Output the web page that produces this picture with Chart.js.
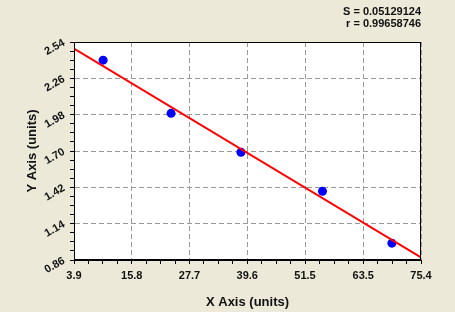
<!DOCTYPE html>
<html>
<head>
<meta charset="utf-8">
<script src="https://cdn.jsdelivr.net/npm/chart.js@4.4.1/dist/chart.umd.min.js"></script>
<style>
  html, body { margin: 0; padding: 0; background: #ECE9D8; }
  canvas { display: block; }
</style>
</head>
<body>
<canvas id="chart" width="455" height="312"></canvas>
<script>
// measured points
const xValues = [9.9, 23.9, 38.3, 55.1, 69.4];
const yValues = [2.40, 1.99, 1.69, 1.39, 0.99];
// ends of the fitted line
const fitX = [3.9, 75.4];
const fitY = [2.49, 0.88];
// axis tick labels
const xTickLabels = ['3.9', '15.8', '27.7', '39.6', '51.5', '63.5', '75.4'];
const yTickLabels = ['0.86', '1.14', '1.42', '1.70', '1.98', '2.26', '2.54'];
const statLines = ['S = 0.05129124', 'r = 0.99658746'];

// majors from the labels, 3 minor ticks between each pair
function withMinorTicks(labels) {
  const ticks = [];
  for (let i = 0; i < labels.length; i++) {
    const v = parseFloat(labels[i]);
    ticks.push({ value: v, text: labels[i] });
    if (i < labels.length - 1) {
      const next = parseFloat(labels[i + 1]);
      for (let k = 1; k < 4; k++) {
        ticks.push({ value: v + (next - v) * k / 4, minor: true });
      }
    }
  }
  return ticks;
}

const gridColor = c => (c.tick && c.tick.minor) ? 'rgba(0,0,0,0)' : '#9a9a9a';
const tickFont = { family: 'Arial, "Liberation Sans"', size: 11, weight: 'bold' };
const titleFont = { family: 'Arial, "Liberation Sans"', size: 13, weight: 'bold' };

// plot background + frame
const plotFrame = {
  id: 'plotFrame',
  beforeDraw(chart) {
    const { ctx, chartArea: a } = chart;
    ctx.save();
    ctx.fillStyle = '#ECE9D8';
    ctx.fillRect(0, 0, chart.width, chart.height);
    ctx.fillStyle = '#ffffff';
    ctx.fillRect(a.left, a.top, a.right - a.left, a.bottom - a.top);
    ctx.restore();
  },
  afterDraw(chart) {
    const { ctx, chartArea: a } = chart;
    ctx.save();
    ctx.strokeStyle = '#000';
    ctx.lineWidth = 1;
    ctx.setLineDash([]);
    ctx.strokeRect(a.left + 0.5, a.top + 0.5, a.right - a.left - 1, a.bottom - a.top - 1);
    ctx.restore();
  }
};

const ctx = document.getElementById('chart').getContext('2d');

const myChart = new Chart(ctx, {
  type: 'scatter',
  data: {
    datasets: [{
      label: 'fit',
      data: fitX.map((x, i) => ({ x: x, y: fitY[i] })),
      showLine: true,
      borderColor: '#ff0000',
      borderWidth: 2,
      pointRadius: 0
    }, {
      label: 'points',
      data: xValues.map((x, i) => ({ x: x, y: yValues[i] })),
      backgroundColor: '#0000ff',
      borderColor: '#0000ff',
      pointRadius: 4.5,
      borderWidth: 0
    }]
  },
  options: {
    responsive: false,
    animation: false,
    layout: { padding: { left: 25, right: 34, top: 6, bottom: 2 } },
    plugins: {
      legend: { display: false },
      tooltip: { enabled: false },
      title: {
        display: true,
        text: statLines,
        align: 'end',
        color: '#111',
        font: { family: 'Arial, "Liberation Sans"', size: 11, weight: 'bold', lineHeight: '12px' },
        padding: { top: 0, bottom: 12 }
      }
    },
    scales: {
      x: {
        type: 'linear',
        min: parseFloat(xTickLabels[0]),
        max: parseFloat(xTickLabels[xTickLabels.length - 1]),
        afterBuildTicks: scale => { scale.ticks = withMinorTicks(xTickLabels); },
        afterFit: scale => { scale.height = 50; },
        ticks: {
          autoSkip: false,
          maxRotation: 0,
          padding: 5,
          color: '#111',
          font: tickFont,
          callback: (v, i, ticks) => ticks[i].minor ? '' : ticks[i].text
        },
        grid: {
          color: gridColor,
          tickColor: '#000',
          tickBorderDash: [],
          tickLength: 4
        },
        border: { color: '#000', width: 1, dash: [5, 3] },
        title: {
          display: true,
          text: 'X Axis (units)',
          color: '#111',
          font: titleFont,
          padding: 0
        }
      },
      y: {
        type: 'linear',
        min: parseFloat(yTickLabels[0]),
        max: parseFloat(yTickLabels[yTickLabels.length - 1]),
        afterBuildTicks: scale => { scale.ticks = withMinorTicks(yTickLabels); },
        afterFit: scale => { scale.width = 49; },
        ticks: {
          autoSkip: false,
          minRotation: 30,
          maxRotation: 30,
          padding: 6,
          color: '#111',
          font: tickFont,
          callback: (v, i, ticks) => ticks[i].minor ? '' : ticks[i].text
        },
        grid: {
          color: gridColor,
          tickColor: '#000',
          tickBorderDash: [],
          tickLength: 4
        },
        border: { color: '#000', width: 1, dash: [5, 3] },
        title: {
          display: true,
          text: 'Y Axis (units)',
          color: '#111',
          font: titleFont,
          padding: 0
        }
      }
    }
  },
  plugins: [plotFrame]
});
</script>
</body>
</html>
